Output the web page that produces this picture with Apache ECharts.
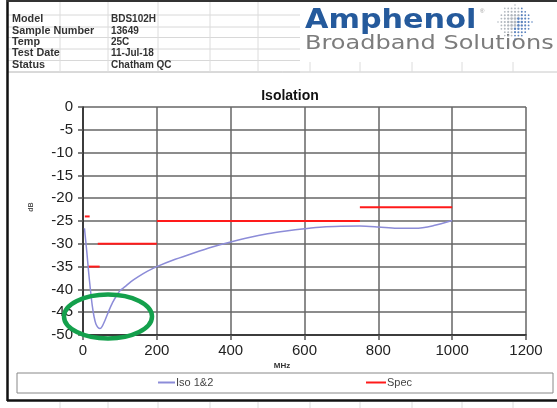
<!DOCTYPE html>
<html><head><meta charset="utf-8">
<script src="https://cdn.jsdelivr.net/npm/echarts@6/dist/echarts.min.js"></script>
<style>html,body{margin:0;padding:0;background:#fff}#c{width:557px;height:408px}</style>
</head><body><div id="c"></div>
<script>
// ---- data ----
const title = 'Isolation';
const xName = 'MHz';
const yName = 'dB';
const isoName = 'Iso 1&2';
const specName = 'Spec';
const isoFreq = [4, 10, 15, 20, 25, 30, 35, 40, 46, 52, 60, 70, 80, 90, 100, 114, 130, 150, 175, 200, 250, 300, 350, 400, 450, 500, 550, 600, 650, 700, 750, 800, 850, 900, 950, 1000];
const isoDb   = [-26.6, -31.5, -36, -40, -43.5, -46, -47.6, -48.3, -48.6, -48.1, -46.7, -44.7, -42.9, -41.5, -40.3, -39.4, -38.3, -37.2, -36, -35, -33.4, -32, -30.7, -29.6, -28.6, -27.8, -27.2, -26.7, -26.3, -26.15, -26.1, -26.3, -26.6, -26.6, -26.0, -24.9];
const specStart = [5, 13, 40, 200, 750];
const specEnd   = [18, 45, 200, 750, 1000];
const specLevel = [-24, -35, -30, -25, -22];
const headerLabels = ['Model', 'Sample Number', 'Temp', 'Test Date', 'Status'];
const headerValues = ['BDS102H', '13649', '25C', '11-Jul-18', 'Chatham QC'];
const xMin = 0, xMax = 1200, xStep = 200;
const yMin = -50, yMax = 0, yStep = 5;

// ---- build ----
const chart = echarts.init(document.getElementById('c'), null, {renderer: 'canvas'});
const FONT = '"Liberation Sans", Arial, sans-serif';
const isoData = isoFreq.map((f, i) => [f, isoDb[i]]);
const specSeries = specStart.map((s, i) => ({
  name: specName, type: 'line', symbol: 'none', silent: true,
  data: [[s, specLevel[i]], [specEnd[i], specLevel[i]]],
  lineStyle: {color: '#ff1a1a', width: 2}, itemStyle: {color: '#ff1a1a'}, z: 3
}));

const gfx = [];
// spreadsheet gridlines (top header area)
const rowLines = [15, 27, 37.5, 49, 60.5, 72];
rowLines.forEach(y => gfx.push({type: 'line', shape: {x1: 8, y1: y, x2: 300, y2: y}, style: {stroke: '#d8d8d8', lineWidth: 1}, z: 0}));
gfx.push({type: 'line', shape: {x1: 8, y1: 72, x2: 557, y2: 72}, style: {stroke: '#c8c8c8', lineWidth: 1}, z: 0});
[60, 108, 158, 210, 258, 310, 360, 412, 462, 513].forEach(x => {
  gfx.push({type: 'line', shape: {x1: x, y1: x > 300 ? 62 : 2, x2: x, y2: 72}, style: {stroke: '#dcdcdc', lineWidth: 1}, z: 0});
  gfx.push({type: 'line', shape: {x1: x, y1: 402, x2: x, y2: 408}, style: {stroke: '#dcdcdc', lineWidth: 1}, z: 0});
});
// borders
gfx.push({type: 'line', shape: {x1: 7.5, y1: 0, x2: 7.5, y2: 401}, style: {stroke: '#111', lineWidth: 2.5}, z: 5});
gfx.push({type: 'line', shape: {x1: 7, y1: 1, x2: 557, y2: 1}, style: {stroke: '#333', lineWidth: 2}, z: 5});
gfx.push({type: 'line', shape: {x1: 7, y1: 400.5, x2: 557, y2: 400.5}, style: {stroke: '#111', lineWidth: 2.5}, z: 5});
// header texts
const rowY = [20.5, 32, 43, 54.5, 66];
headerLabels.forEach((t, i) => {
  gfx.push({type: 'text', x: 12, y: rowY[i] - 6, scaleX: 1.08, style: {text: t, font: 'bold 10px ' + FONT, fill: '#333'}, z: 4});
  gfx.push({type: 'text', x: 111, y: rowY[i] - 6, style: {text: headerValues[i], font: 'bold 10px ' + FONT, fill: '#333'}, z: 4});
});
// logo
gfx.push({type: 'text', x: 305, y: 7, scaleX: 1.12, style: {text: 'Amphenol', font: 'bold 27px "DejaVu Sans", sans-serif', fill: '#255a9c'}, z: 4});
gfx.push({type: 'text', x: 305, y: 34, scaleX: 1.2, style: {text: 'Broadband Solutions', font: '20px "DejaVu Sans", sans-serif', fill: '#7c7c7c'}, z: 4});
gfx.push({type: 'text', x: 480, y: 8, style: {text: '\u00AE', font: '6px sans-serif', fill: '#999'}, z: 4});
// globe made of dots (decoration)
const gcx = 515, gcy = 22, gr = 17;
for (let r = -5; r <= 5; r++) {
  for (let c = -5; c <= 5; c++) {
    const px = gcx + c * 3.4, py = gcy + r * 3.4;
    const d = Math.hypot(px - gcx, py - gcy);
    if (d > gr) continue;
    const rad = 1.5 - (d / gr) * 0.7;
    const blue = (c + r * 0.3) > 0.5;
    gfx.push({type: 'circle', shape: {cx: px, cy: py, r: rad}, style: {fill: blue ? '#3f6fb3' : '#a3aab3', opacity: 0.85}, z: 4});
  }
}
// legend frame
gfx.push({type: 'rect', shape: {x: 17, y: 373, width: 536, height: 20}, style: {fill: '#fff', stroke: '#888', lineWidth: 1}, z: 1});
// axis names
gfx.push({type: 'text', x: 282, y: 366, style: {text: xName, font: 'bold 8px ' + FONT, fill: '#333', align: 'center', verticalAlign: 'middle'}, z: 4});
gfx.push({type: 'text', x: 31, y: 207, rotation: Math.PI / 2, style: {text: yName, font: 'bold 7px ' + FONT, fill: '#555', align: 'center', verticalAlign: 'middle'}, z: 4});
// green ellipse highlight (annotation)
gfx.push({type: 'ellipse', shape: {cx: 108, cy: 316.5, rx: 44, ry: 22}, style: {fill: 'none', stroke: '#14a04c', lineWidth: 4.5}, z: 10});

const option = {
  backgroundColor: '#fff',
  animation: false,
  title: {text: title, left: 285, textAlign: 'center', top: 84, textStyle: {fontFamily: FONT, fontSize: 14, fontWeight: 'bold', color: '#111'}},
  grid: {left: 83, right: 31, top: 107, bottom: 73},
  legend: [
    {data: [isoName], left: 153, top: 372, icon: 'rect', itemWidth: 17, itemHeight: 2, itemGap: 2, textStyle: {fontFamily: FONT, fontSize: 11, color: '#444', padding: [0, 0, 0, -4]}, z: 4},
    {data: [specName], left: 361, top: 372, icon: 'rect', itemWidth: 20, itemHeight: 2, itemGap: 2, textStyle: {fontFamily: FONT, fontSize: 11, color: '#444', padding: [0, 0, 0, -4]}, z: 4}
  ],
  xAxis: {
    type: 'value', min: xMin, max: xMax, interval: xStep,
    axisLine: {onZero: false, lineStyle: {color: '#222', width: 1.5}},
    axisTick: {show: true, length: 5, lineStyle: {color: '#555', width: 1.5}},
    axisLabel: {fontFamily: FONT, fontSize: 15, color: '#222', margin: 8, formatter: v => String(v)},
    splitLine: {show: true, lineStyle: {color: '#666', width: 1.5}}
  },
  yAxis: {
    type: 'value', min: yMin, max: yMax, interval: yStep,
    axisLine: {show: true, onZero: false, lineStyle: {color: '#222', width: 1.5}},
    axisTick: {show: true, length: 5, lineStyle: {color: '#555', width: 1.5}},
    axisLabel: {fontFamily: FONT, fontSize: 15, color: '#222', margin: 10, formatter: v => String(v)},
    splitLine: {show: true, lineStyle: {color: '#666', width: 1.5}}
  },
  series: [
    {name: isoName, type: 'line', symbol: 'none', smooth: 0.3, data: isoData,
     lineStyle: {color: '#8c8cd8', width: 1.5}, itemStyle: {color: '#8c8cd8'}, z: 4}
  ].concat(specSeries),
  graphic: gfx
};
chart.setOption(option);
</script>
</body></html>
